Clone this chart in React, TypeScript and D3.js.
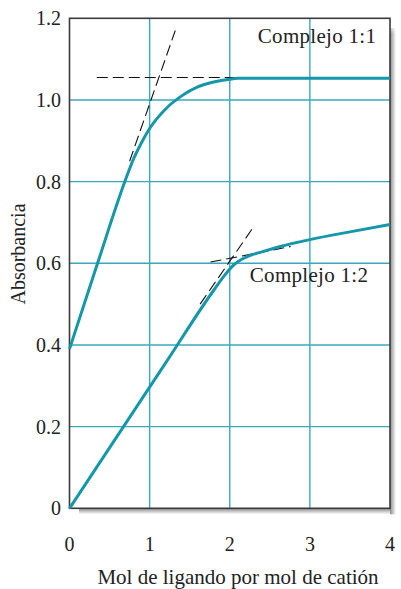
import React from "react";
import * as d3 from "d3";

const xTicks = [0, 1, 2, 3, 4];
const yTicks = [0, 0.2, 0.4, 0.6, 0.8, 1.0, 1.2];
const yTickLabels = ["0", "0.2", "0.4", "0.6", "0.8", "1.0", "1.2"];

const c11X = [0, 0.35, 0.7, 0.8, 0.9, 1.0, 1.2, 1.4, 1.6, 1.8, 2.0, 2.1, 3, 4];
const c11Y = [0.39, 0.6, 0.805, 0.856, 0.896, 0.93, 0.978, 1.01, 1.032, 1.044, 1.051, 1.053, 1.053, 1.053];

const c12X = [0, 0.6, 1.2, 1.8, 1.95, 2.05, 2.15, 2.25, 2.4, 2.63, 3.0, 3.5, 4];
const c12Y = [0, 0.178, 0.356, 0.534, 0.574, 0.596, 0.61, 0.619, 0.628, 0.641, 0.658, 0.677, 0.695];

const tangents = [
  [[0.75, 0.85], [1.32, 1.17]],
  [[0.34, 1.055], [2.1, 1.055]],
  [[1.63, 0.5], [2.3, 0.69]],
  [[1.76, 0.603], [2.76, 0.641]],
];

const labels = [
  { text: "Complejo 1:1", x: 2.35, y: 1.14 },
  { text: "Complejo 1:2", x: 2.25, y: 0.555 },
];

const W = 401, H = 589;
const left = 69.5, right = 390, top = 18.3, bottom = 508.3;

export default function App() {
  const x = d3.scaleLinear().domain([0, 4]).range([left, right]);
  const y = d3.scaleLinear().domain([0, 1.2]).range([bottom, top]);
  const line = d3.line<[number, number]>().x(d => x(d[0])).y(d => y(d[1])).curve(d3.curveMonotoneX);
  const straight = d3.line<number[]>().x(d => x(d[0])).y(d => y(d[1]));
  const c11 = c11X.map((v, i) => [v, c11Y[i]] as [number, number]);
  const c12 = c12X.map((v, i) => [v, c12Y[i]] as [number, number]);
  const teal = "#1597a9";
  const grid = "#3aa8b8";
  const font = "'Liberation Serif', 'Times New Roman', serif";
  return (
    <svg width={W} height={H} style={{ position: "absolute", left: 0, top: 0, background: "#fff" }}>
      <defs>
        <linearGradient id="shR" x1="0" x2="1" y1="0" y2="0">
          <stop offset="0" stopColor="#8a8a8a" />
          <stop offset="1" stopColor="#ffffff" />
        </linearGradient>
        <linearGradient id="shB" x1="0" x2="0" y1="0" y2="1">
          <stop offset="0" stopColor="#8a8a8a" />
          <stop offset="1" stopColor="#ffffff" />
        </linearGradient>
        <linearGradient id="shRT" x1="0" x2="0" y1="0" y2="1">
          <stop offset="0" stopColor="#fff" stopOpacity="1" />
          <stop offset="1" stopColor="#fff" stopOpacity="0" />
        </linearGradient>
      </defs>
      <rect x={right} y={28} width={6} height={bottom - 28 + 6} fill="url(#shR)" />
      <rect x={79} y={bottom} width={right - 79} height={6} fill="url(#shB)" />
      <rect x={right} y={24} width={6} height={10} fill="url(#shRT)" />
      <rect x={left} y={top} width={right - left} height={bottom - top} fill="#fff" />
      {xTicks.slice(1, -1).map(t => (
        <line key={"gx" + t} x1={x(t)} x2={x(t)} y1={top} y2={bottom} stroke={grid} strokeWidth={1.4} />
      ))}
      {yTicks.slice(1, -1).map(t => (
        <line key={"gy" + t} x1={left} x2={right} y1={y(t)} y2={y(t)} stroke={grid} strokeWidth={1.4} />
      ))}
      <rect x={left} y={top} width={right - left} height={bottom - top} fill="none" stroke="#3a3a3a" strokeWidth={1.6} />
      {tangents.map((t, i) => (
        <path key={"t" + i} d={straight(t) || ""} fill="none" stroke="#111" strokeWidth={1.1} strokeDasharray="11,5" />
      ))}
      <path d={line(c11) || ""} fill="none" stroke={teal} strokeWidth={3} />
      <path d={line(c12) || ""} fill="none" stroke={teal} strokeWidth={3} />
      {labels.map(l => (
        <text key={l.text} x={x(l.x)} y={y(l.y)} fontFamily={font} fontSize={21} letterSpacing={0.3} fill="#222">{l.text}</text>
      ))}
      {yTicks.map((t, i) => (
        <text key={"yl" + t} x={61} y={y(t)} dy="0.35em" textAnchor="end" fontFamily={font} fontSize={20} fill="#222">{yTickLabels[i]}</text>
      ))}
      {xTicks.map(t => (
        <text key={"xl" + t} x={x(t)} y={551} textAnchor="middle" fontFamily={font} fontSize={20} fill="#222">{t}</text>
      ))}
      <text x={238} y={584} textAnchor="middle" fontFamily={font} fontSize={21} fill="#222">Mol de ligando por mol de catión</text>
      <text transform="translate(25,254) rotate(-90)" textAnchor="middle" fontFamily={font} fontSize={20} fill="#222">Absorbancia</text>
    </svg>
  );
}
